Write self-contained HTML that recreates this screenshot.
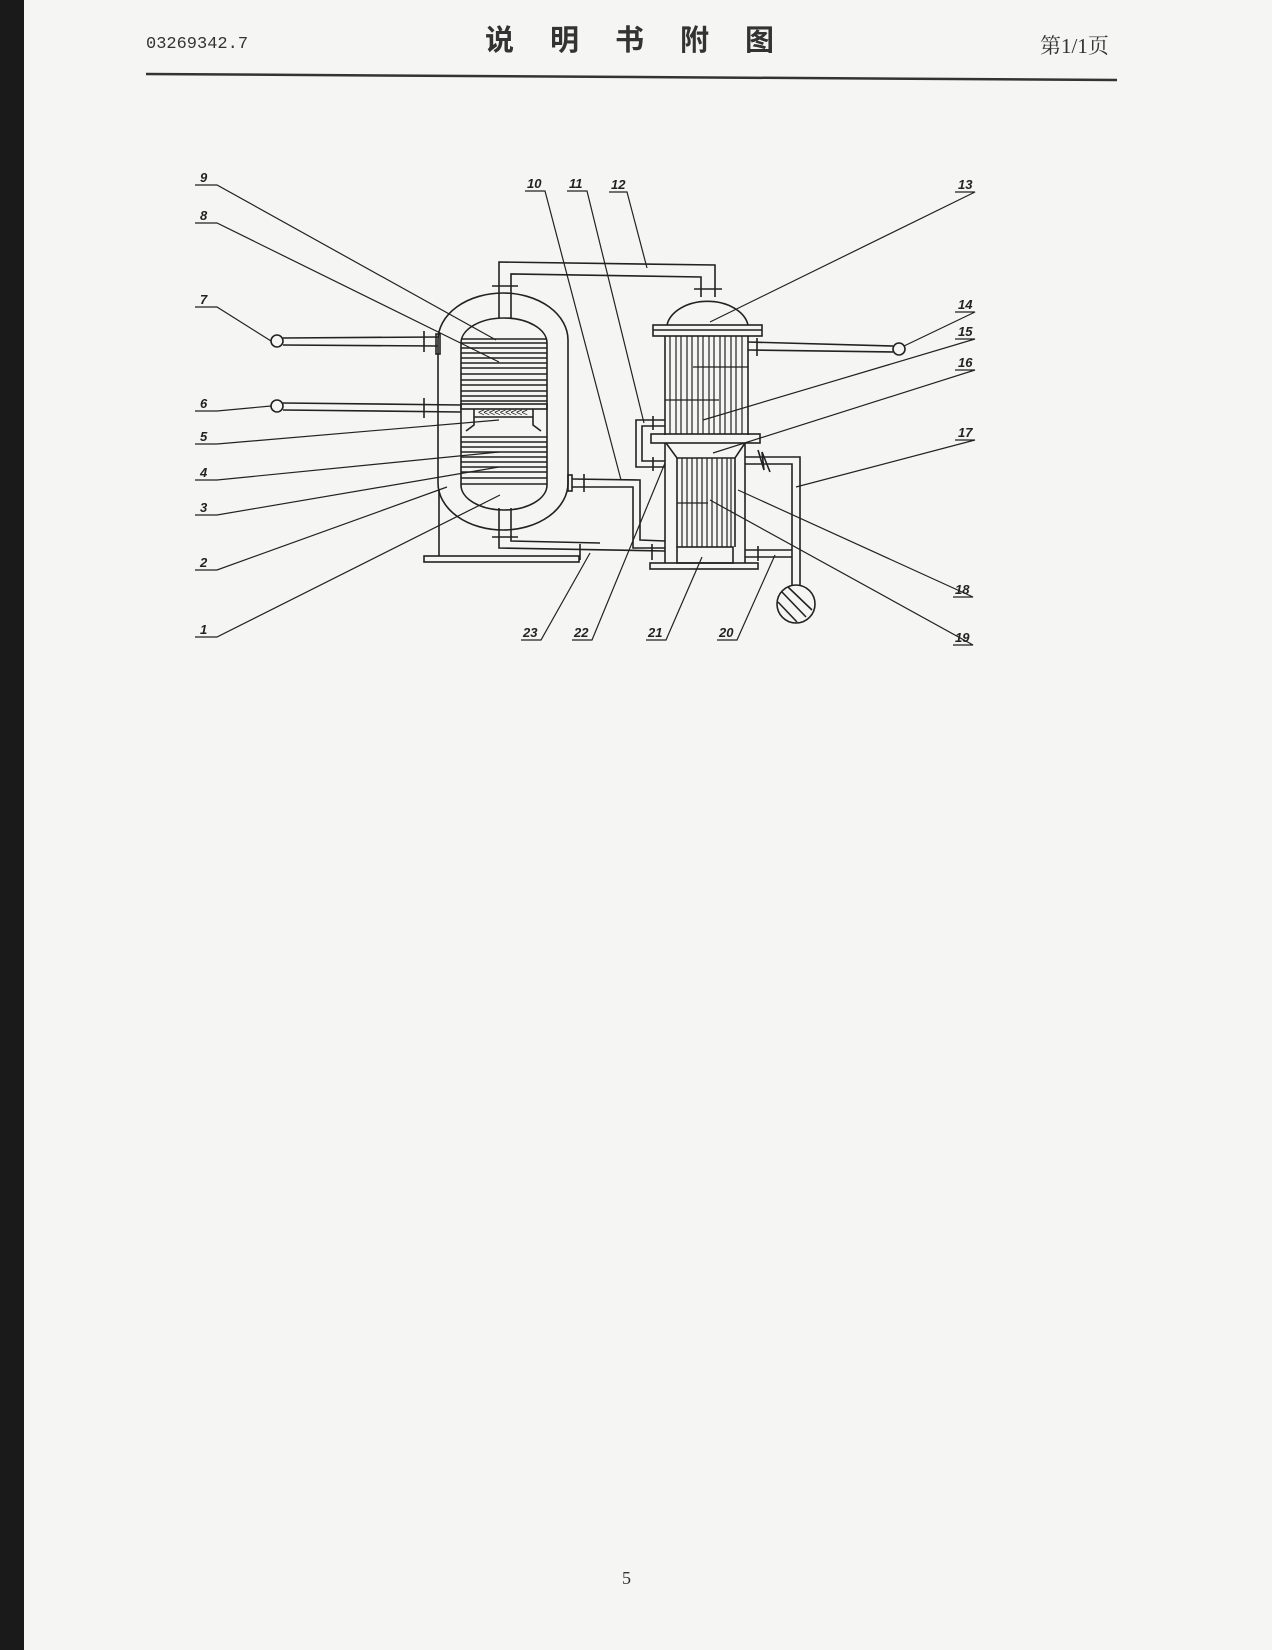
<!DOCTYPE html>
<html><head><meta charset="utf-8"><style>
html,body{margin:0;padding:0;background:#f5f5f3;}
svg{display:block}
.l{stroke:#222;stroke-width:1.6;fill:none}
.t{font-family:"Liberation Sans",sans-serif;font-style:italic;font-weight:bold;font-size:13px;fill:#222}
</style></head><body>
<svg width="1272" height="1650" viewBox="0 0 1272 1650" xmlns="http://www.w3.org/2000/svg">
<rect x="0" y="0" width="1272" height="1650" fill="#f5f5f3"/>
<rect x="0" y="0" width="24" height="1650" fill="#1a1a1a"/>
<text x="146" y="48" font-family="Liberation Mono,monospace" font-size="17" fill="#333">03269342.7</text>
<text x="485" y="50" font-family="'Liberation Sans','Noto Sans CJK SC',sans-serif" font-size="29" font-weight="bold" fill="#333" letter-spacing="36">说明书附图</text>
<text x="1040" y="53" font-family="'Liberation Serif','Noto Serif CJK SC',serif" font-size="21" fill="#333">第1/1页</text>
<line x1="146" y1="74" x2="1117" y2="80" stroke="#333" stroke-width="2.5"/>
<text x="622" y="1584" font-family="Liberation Serif,serif" font-size="18" fill="#333">5</text>

<g class="l">
<path d="M438 340 A65 47 0 0 1 568 340 L568 483 A65 47 0 0 1 438 483 Z"/>
<path d="M461 343 A43 25 0 0 1 547 343 L547 485 A43 25 0 0 1 461 485 Z"/>
<path d="M499 318 L499 262 L715 265 L715 297"/>
<path d="M511 318 L511 274 L701 277 L701 297"/>
<line x1="492" y1="286" x2="518" y2="286"/><line x1="694" y1="289" x2="722" y2="289"/>
<line x1="461" y1="339" x2="547" y2="339"/><line x1="461" y1="343" x2="547" y2="343"/>
<line x1="461" y1="348" x2="547" y2="348"/><line x1="461" y1="353" x2="547" y2="353"/>
<line x1="461" y1="358" x2="547" y2="358"/><line x1="461" y1="363" x2="547" y2="363"/>
<line x1="461" y1="368" x2="547" y2="368"/><line x1="461" y1="374" x2="547" y2="374"/>
<line x1="461" y1="380" x2="547" y2="380"/><line x1="461" y1="385" x2="547" y2="385"/>
<line x1="461" y1="391" x2="547" y2="391"/><line x1="461" y1="396" x2="547" y2="396"/>
<line x1="461" y1="401" x2="547" y2="401"/>
<rect x="461" y="404" width="86" height="5"/>
<path d="M474 409 L474 425 L466 431 M533 409 L533 425 L541 431 M474 417 L533 417"/>
<text x="478" y="416" font-size="11" font-family="Liberation Sans,sans-serif" fill="#222" stroke="none" letter-spacing="-1">&lt;&lt;&lt;&lt;&lt;&lt;&lt;&lt;&lt;</text>
<line x1="461" y1="437" x2="547" y2="437"/><line x1="461" y1="442" x2="547" y2="442"/>
<line x1="461" y1="447" x2="547" y2="447"/><line x1="461" y1="452" x2="547" y2="452"/>
<line x1="461" y1="457" x2="547" y2="457"/><line x1="461" y1="462" x2="547" y2="462"/>
<line x1="461" y1="467" x2="547" y2="467"/><line x1="461" y1="472" x2="547" y2="472"/>
<line x1="461" y1="478" x2="547" y2="478"/><line x1="461" y1="484" x2="547" y2="484"/>
<circle cx="277" cy="341" r="6"/>
<path d="M283 338 L438 337 M283 345 L438 346"/><line x1="424" y1="331" x2="424" y2="352"/>
<rect x="436" y="334" width="4" height="20"/>
<circle cx="277" cy="406" r="6"/>
<path d="M283 403 L461 405 M283 410 L461 412"/><line x1="424" y1="398" x2="424" y2="418"/>
<rect x="568" y="475" width="4" height="16"/>
<path d="M572 479 L640 480 L640 540 L665 541 M572 487 L633 487 L633 548 L665 548"/>
<line x1="584" y1="474" x2="584" y2="492"/>
<path d="M499 508 L499 548 L665 551 M511 508 L511 541 L600 543"/>
<line x1="492" y1="537" x2="518" y2="537"/>
<line x1="580" y1="544" x2="580" y2="560"/><line x1="652" y1="544" x2="652" y2="560"/>
<path d="M439 490 L439 556"/>
<rect x="424" y="556" width="155" height="6"/>
<path d="M667 325 A41 28 0 0 1 748 325"/>
<rect x="653" y="325" width="109" height="11"/>
<line x1="653" y1="330" x2="762" y2="330"/>
<path d="M665 336 L665 435 M748 336 L748 435"/>
<rect x="651" y="434" width="109" height="9"/>
<path d="M666 443 L677 458 L735 458 L745 443"/>
<path d="M665 443 L665 563 M745 443 L745 563 M677 458 L677 547 M735 458 L735 547"/>
<rect x="677" y="547" width="56" height="16"/>
<rect x="650" y="563" width="108" height="6"/>
<path d="M748 342 L893 346 M748 350 L893 352"/><line x1="757" y1="338" x2="757" y2="356"/>
<circle cx="899" cy="349" r="6"/>
<path d="M665 420 L636 420 L636 467 L665 467 M665 426 L642 426 L642 461 L665 461"/>
<line x1="653" y1="416" x2="653" y2="430"/><line x1="653" y1="457" x2="653" y2="471"/>
<path d="M745 457 L800 457 L800 585 M745 464 L792 464 L792 585"/>
<path d="M758 450 L764 470 L762 452 L770 472" />
<ellipse cx="796" cy="604" rx="19" ry="19"/>
<path d="M782 592 L806 617 M778 602 L797 622 M788 587 L812 610"/>
<path d="M745 550 L792 550 M745 557 L792 557"/><line x1="758" y1="546" x2="758" y2="561"/>
</g>
<g stroke="#222" stroke-width="1.2">
<line x1="670" y1="336" x2="670" y2="434"/><line x1="676" y1="336" x2="676" y2="434"/>
<line x1="681" y1="336" x2="681" y2="434"/><line x1="687" y1="336" x2="687" y2="434"/>
<line x1="692" y1="336" x2="692" y2="434"/><line x1="698" y1="336" x2="698" y2="434"/>
<line x1="703" y1="336" x2="703" y2="434"/><line x1="709" y1="336" x2="709" y2="434"/>
<line x1="714" y1="336" x2="714" y2="434"/><line x1="720" y1="336" x2="720" y2="434"/>
<line x1="725" y1="336" x2="725" y2="434"/><line x1="731" y1="336" x2="731" y2="434"/>
<line x1="736" y1="336" x2="736" y2="434"/><line x1="742" y1="336" x2="742" y2="434"/>
<line x1="693" y1="367" x2="748" y2="367"/><line x1="665" y1="400" x2="719" y2="400"/>
<line x1="682" y1="458" x2="682" y2="547"/><line x1="687" y1="458" x2="687" y2="547"/>
<line x1="692" y1="458" x2="692" y2="547"/><line x1="697" y1="458" x2="697" y2="547"/>
<line x1="702" y1="458" x2="702" y2="547"/><line x1="707" y1="458" x2="707" y2="547"/>
<line x1="712" y1="458" x2="712" y2="547"/><line x1="717" y1="458" x2="717" y2="547"/>
<line x1="722" y1="458" x2="722" y2="547"/><line x1="727" y1="458" x2="727" y2="547"/>
<line x1="731" y1="458" x2="731" y2="547"/>
<line x1="677" y1="503" x2="708" y2="503"/>
</g>
<g stroke="#222" stroke-width="1.2" fill="none">
<path d="M195 185 L217 185 L496 340"/>
<path d="M195 223 L217 223 L499 362"/>
<path d="M195 307 L217 307 L271 341"/>
<path d="M195 411 L217 411 L271 406"/>
<path d="M195 444 L217 444 L499 420"/>
<path d="M195 480 L217 480 L499 452"/>
<path d="M195 515 L217 515 L499 467"/>
<path d="M195 570 L217 570 L447 487"/>
<path d="M195 637 L217 637 L500 495"/>
<path d="M525 191 L545 191 L621 480"/>
<path d="M567 191 L587 191 L644 423"/>
<path d="M609 192 L627 192 L647 268"/>
<path d="M955 192 L975 192 L710 322"/>
<path d="M955 312 L975 312 L904 346"/>
<path d="M955 339 L975 339 L703 420"/>
<path d="M955 370 L975 370 L713 453"/>
<path d="M955 440 L975 440 L796 487"/>
<path d="M953 597 L973 597 L738 490"/>
<path d="M953 645 L973 645 L710 500"/>
<path d="M717 640 L737 640 L775 555"/>
<path d="M646 640 L666 640 L702 557"/>
<path d="M572 640 L592 640 L665 463"/>
<path d="M521 640 L541 640 L590 553"/>
</g>
<g class="t">
<text x="200" y="182">9</text><text x="200" y="220">8</text><text x="200" y="304">7</text>
<text x="200" y="408">6</text><text x="200" y="441">5</text><text x="200" y="477">4</text>
<text x="200" y="512">3</text><text x="200" y="567">2</text><text x="200" y="634">1</text>
<text x="527" y="188">10</text><text x="569" y="188">11</text><text x="611" y="189">12</text>
<text x="958" y="189">13</text><text x="958" y="309">14</text><text x="958" y="336">15</text>
<text x="958" y="367">16</text><text x="958" y="437">17</text><text x="955" y="594">18</text>
<text x="955" y="642">19</text><text x="719" y="637">20</text><text x="648" y="637">21</text>
<text x="574" y="637">22</text><text x="523" y="637">23</text>
</g>
</svg>
</body></html>
